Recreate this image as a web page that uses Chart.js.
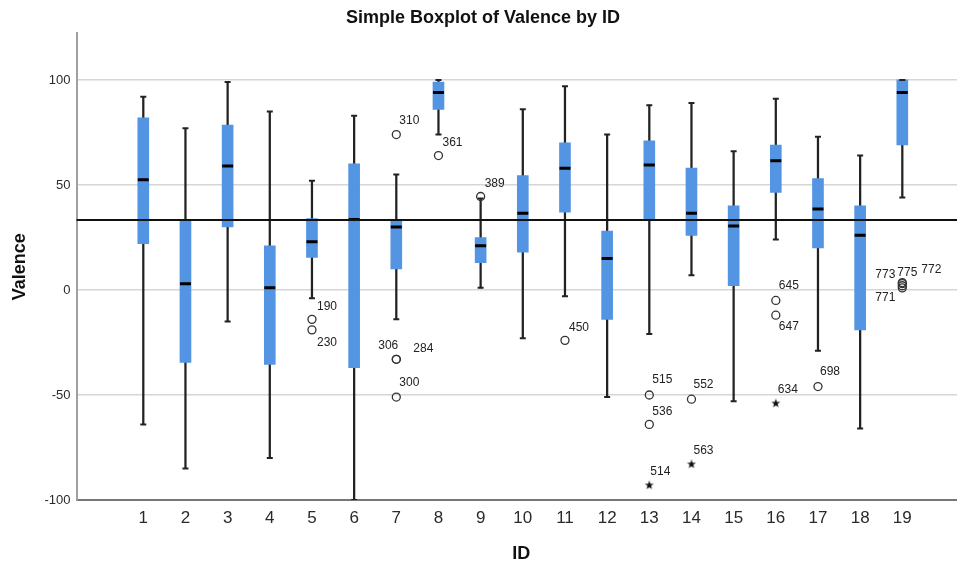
<!DOCTYPE html>
<html><head><meta charset="utf-8">
<script src="https://cdn.jsdelivr.net/npm/chart.js@4"></script>
<style>html,body{margin:0;padding:0;background:#fff}canvas{display:block}</style>
</head><body>
<canvas id="c" width="957" height="565"></canvas>
<script>
// ---------- data ----------
const IDS      = [1, 2, 3, 4, 5, 6, 7, 8, 9, 10, 11, 12, 13, 14, 15, 16, 17, 18, 19];
const Q1       = [22, -34.5, 30, -35.5, 15.5, -37, 10, 86, 13, 18, 37, -14, 34, 26, 2, 46.5, 20, -19, 69];
const MEDIAN   = [52.5, 3, 59, 1, 23, 33.5, 30, 94, 21, 36.5, 58, 15, 59.5, 36.5, 30.5, 61.5, 38.5, 26, 94];
const Q3       = [82, 33.5, 78.5, 21, 34, 60, 33, 99, 25, 54.5, 70, 28, 71, 58, 40, 69, 53, 40, 100];
const WHISK_LO = [-64, -85, -15, -80, -4, -100, -14, 74, 1, -23, -3, -51, -21, 7, -53, 24, -29, -66, 44];
const WHISK_HI = [92, 77, 99, 85, 52, 83, 55, 100, 43.5, 86, 97, 74, 88, 89, 66, 91, 73, 64, 100];

const OUT_ID   = [5, 5, 7, 7, 7, 7, 8, 9, 11, 13, 13, 13, 14, 14, 16, 16, 16, 17, 19, 19, 19, 19];
const OUT_VAL  = [-14, -19, 74, -33, -33, -51, 64, 44.5, -24, -50, -64, -93, -52, -83, -5, -12, -54, -46, 3.5, 3, 2, 1];
const OUT_CASE = ['190', '230', '310', '306', '284', '300', '361', '389', '450', '515', '536', '514', '552', '563', '645', '647', '634', '698', '773', '775', '772', '771'];
const OUT_KIND = ['o', 'o', 'o', 'o', 'o', 'o', 'o', 'o', 'o', 'o', 'o', '*', 'o', '*', 'o', 'o', '*', 'o', 'o', 'o', 'o', 'o'];

const Y_TICKS  = [-100, -50, 0, 50, 100];
const REF_LINE = 33.3;

// ---------- styling (label placement relative to each outlier mark) ----------
const LABEL_OFFSET = [
  [5, -13, 'left'], [5, 13, 'left'], [3, -14, 'left'], [2, -14, 'right'], [17, -11, 'left'], [3, -14, 'left'],
  [4, -13, 'left'], [4, -13, 'left'], [4, -13, 'left'], [3, -15, 'left'], [3, -13, 'left'], [1, -14, 'left'],
  [2, -14, 'left'], [2, -14, 'left'], [3, -15, 'left'], [3, 12, 'left'], [2, -14, 'left'], [2, -15, 'left'],
  [-7, -8, 'right'], [-5, -11, 'left'], [19, -16, 'left'], [-7, 10, 'right']
];
const FONT = "'Liberation Sans', Arial, sans-serif";
const BOX_BLUE = 'rgb(83,149,226)';

function makeStar() {
  const c = document.createElement('canvas');
  c.width = 10; c.height = 10;
  const g = c.getContext('2d');
  g.fillStyle = '#111';
  g.beginPath();
  for (let k = 0; k < 10; k++) {
    const r = k % 2 ? 1.9 : 4.7;
    const a = -Math.PI / 2 + k * Math.PI / 5;
    g.lineTo(5 + r * Math.cos(a), 5 + r * Math.sin(a));
  }
  g.closePath();
  g.fill();
  return c;
}
const STAR = makeStar();

const refLinePlugin = {
  id: 'refLine',
  afterDatasetsDraw(chart) {
    const {ctx, chartArea, scales} = chart;
    const y = scales.y.getPixelForValue(REF_LINE);
    ctx.save();
    ctx.strokeStyle = '#111';
    ctx.lineWidth = 2;
    ctx.beginPath();
    ctx.moveTo(chartArea.left, y);
    ctx.lineTo(chartArea.right, y);
    ctx.stroke();
    ctx.restore();
  }
};

const outlierLabelPlugin = {
  id: 'outlierLabels',
  afterDatasetsDraw(chart) {
    const meta = chart.getDatasetMeta(4);
    const ctx = chart.ctx;
    ctx.save();
    ctx.font = '12px ' + FONT;
    ctx.fillStyle = '#222';
    ctx.textBaseline = 'middle';
    meta.data.forEach((el, i) => {
      const [dx, dy, al] = LABEL_OFFSET[i];
      ctx.textAlign = al;
      ctx.fillText(OUT_CASE[i], el.x + dx, el.y + dy);
    });
    ctx.restore();
  }
};

const capsData = [];
IDS.forEach((id, i) => {
  capsData.push({x: id, y: WHISK_LO[i]});
  capsData.push({x: id, y: WHISK_HI[i]});
});

new Chart(document.getElementById('c'), {
  type: 'bar',
  data: {
    datasets: [
      { // 0 whiskers
        type: 'bar',
        data: IDS.map((id, i) => ({x: id, y: [WHISK_LO[i], WHISK_HI[i]]})),
        backgroundColor: '#222',
        barThickness: 1.6,
        grouped: false,
        borderWidth: 0,
        order: 6
      },
      { // 1 boxes
        type: 'bar',
        data: IDS.map((id, i) => ({x: id, y: [Q1[i], Q3[i]]})),
        backgroundColor: BOX_BLUE,
        barThickness: 11,
        grouped: false,
        borderWidth: 0,
        order: 5
      },
      { // 2 medians
        type: 'scatter',
        data: IDS.map((id, i) => ({x: id, y: MEDIAN[i]})),
        pointStyle: 'line',
        radius: 5.5,
        borderWidth: 3,
        borderColor: '#000',
        order: 3
      },
      { // 3 whisker caps
        type: 'scatter',
        data: capsData,
        pointStyle: 'line',
        radius: 3,
        borderWidth: 2,
        borderColor: '#222',
        order: 4
      },
      { // 4 outliers
        type: 'scatter',
        data: OUT_ID.map((id, i) => ({x: id, y: OUT_VAL[i]})),
        pointStyle: (c) => (c.dataIndex !== undefined && OUT_KIND[c.dataIndex] === '*') ? STAR : 'circle',
        radius: 4,
        borderWidth: 1.3,
        borderColor: '#333',
        backgroundColor: 'rgba(255,255,255,0)',
        order: 1
      }
    ]
  },
  options: {
    responsive: false,
    animation: false,
    events: [],
    layout: {padding: 0, autoPadding: false},
    plugins: {
      legend: {display: false},
      tooltip: {enabled: false},
      title: {
        display: true,
        text: '\u2002Simple Boxplot of Valence by ID',
        color: '#111',
        font: {family: FONT, size: 18, weight: 'bold'},
        padding: {top: 7.5, bottom: 4.2}
      }
    },
    scales: {
      x: {
        type: 'linear',
        min: -0.584,
        max: 20.297,
        offset: false,
        afterBuildTicks: (axis) => { axis.ticks = IDS.map(v => ({value: v})); },
        afterFit: (axis) => { axis.height = 65; axis.paddingLeft = 0; axis.paddingRight = 0; },
        grid: {display: false, drawTicks: false},
        border: {display: true, color: '#777', width: 2},
        ticks: {color: '#2a2a2a', font: {family: FONT, size: 17}, padding: 8, maxRotation: 0, autoSkip: false},
        title: {display: true, text: '\u2002ID', color: '#111', font: {family: FONT, size: 18, weight: 'bold'}, padding: {top: 0, bottom: 0}}
      },
      y: {
        type: 'linear',
        min: -100,
        max: 122.2,
        afterBuildTicks: (axis) => { axis.ticks = Y_TICKS.map(v => ({value: v})); },
        afterFit: (axis) => { axis.width = 76.5; axis.paddingTop = 0; axis.paddingBottom = 0; },
        grid: {color: '#d6d6d6', lineWidth: 1.5, drawTicks: false},
        border: {display: true, color: '#a0a0a0', width: 2},
        ticks: {color: '#2a2a2a', font: {family: FONT, size: 13}, padding: 6},
        title: {display: true, text: 'Valence', color: '#111', font: {family: FONT, size: 18, weight: 'bold'}, padding: {top: 9, bottom: 0}}
      }
    }
  },
  plugins: [refLinePlugin, outlierLabelPlugin]
});
</script>
</body></html>
